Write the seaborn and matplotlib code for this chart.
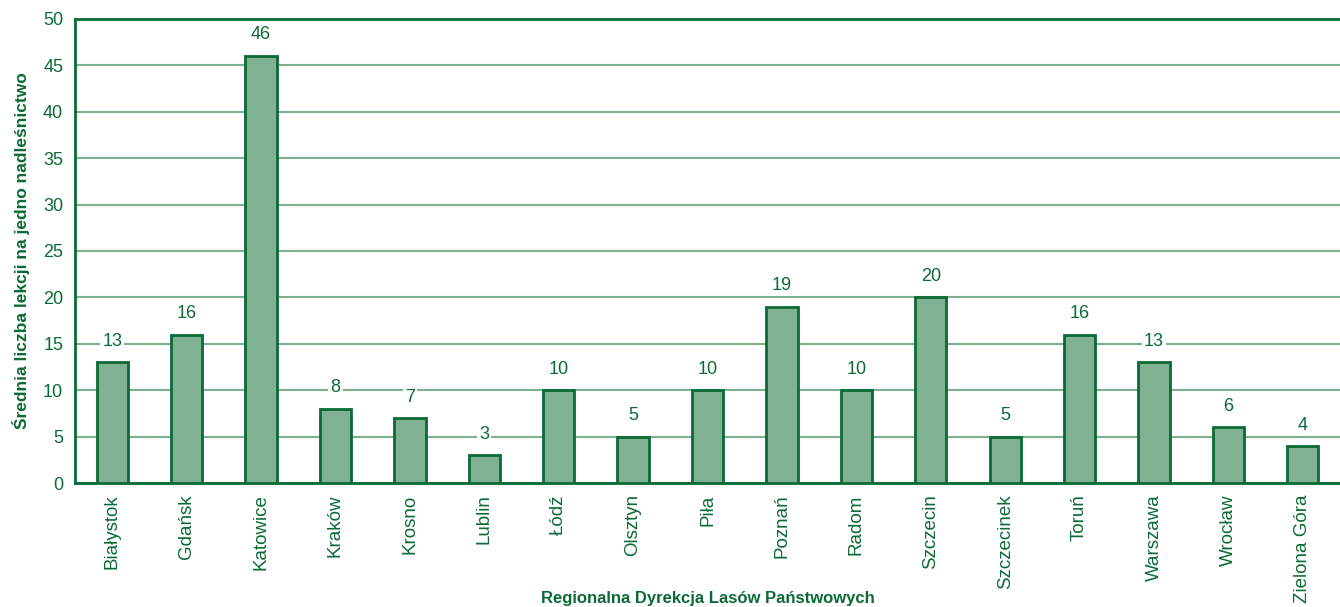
import pandas as pd
import matplotlib.pyplot as plt
import seaborn as sns

regions = ["Białystok", "Gdańsk", "Katowice", "Kraków", "Krosno", "Lublin", "Łódź",
           "Olsztyn", "Piła", "Poznań", "Radom", "Szczecin", "Szczecinek", "Toruń",
           "Warszawa", "Wrocław", "Zielona Góra"]
lessons = [13, 16, 46, 8, 7, 3, 10, 5, 10, 19, 10, 20, 5, 16, 13, 6, 4]

dark = "#0b6a35"
grid = "#7fb08f"
fill = "#80b192"

sns.set_style("white")
plt.rcParams["font.family"] = ["Liberation Sans Narrow", "Liberation Sans", "DejaVu Sans"]

df = pd.DataFrame({"region": regions, "lessons": lessons})

fig = plt.figure(figsize=(13.4, 6.07), dpi=100)
ax = fig.add_axes([0.056, 0.204, 0.944, 0.765])
sns.barplot(data=df, x="region", y="lessons", color=fill, edgecolor=dark,
            linewidth=2, width=0.42, saturation=1, ax=ax, zorder=3)

ax.set_ylim(0, 50)
ax.set_xlim(-0.5, len(regions) - 0.5)
ax.set_yticks(range(0, 51, 5))
ax.yaxis.grid(True, color=grid, linewidth=1.5, zorder=0)
ax.set_axisbelow(True)

# value labels sit on a white patch that interrupts the grid lines
for i, v in enumerate(lessons):
    ax.annotate(str(v), (i, v), xytext=(0, 9), textcoords="offset points",
                ha="center", va="bottom", fontsize=13, color=dark,
                family=["Liberation Sans", "DejaVu Sans"],
                bbox=dict(facecolor="white", edgecolor="none", pad=1.5), zorder=4)

ax.set_xticks(range(len(regions)))
ax.set_xticklabels(regions, rotation=90, fontsize=13.5, color=dark)
ax.set_xticks([i + 0.5 for i in range(-1, len(regions))], minor=True)
ax.tick_params(axis="x", which="major", length=0, pad=8)
ax.tick_params(axis="x", which="minor", length=6, width=1.2, color=dark, direction="out")
ax.tick_params(axis="y", length=5, width=1.2, color=dark, labelcolor=dark, labelsize=13,
               direction="out")
for lab in ax.get_yticklabels():
    lab.set_family(["Liberation Sans", "DejaVu Sans"])

for side in ["left", "bottom", "top"]:
    ax.spines[side].set_color(dark)
    ax.spines[side].set_linewidth(2)
ax.spines["right"].set_visible(False)

ax.set_xlabel("Regionalna Dyrekcja Lasów Państwowych", fontsize=12, fontweight="bold",
              color=dark, family=["Liberation Sans", "DejaVu Sans"], va="center")
ax.xaxis.set_label_coords(0.5, -0.248)
ax.set_ylabel("Średnia liczba lekcji na jedno nadleśnictwo", fontsize=12.5, fontweight="bold",
              color=dark, family=["Liberation Sans", "DejaVu Sans"], va="center")
ax.yaxis.set_label_coords(-0.043, 0.5)

fig.savefig("out.png", dpi=100)
